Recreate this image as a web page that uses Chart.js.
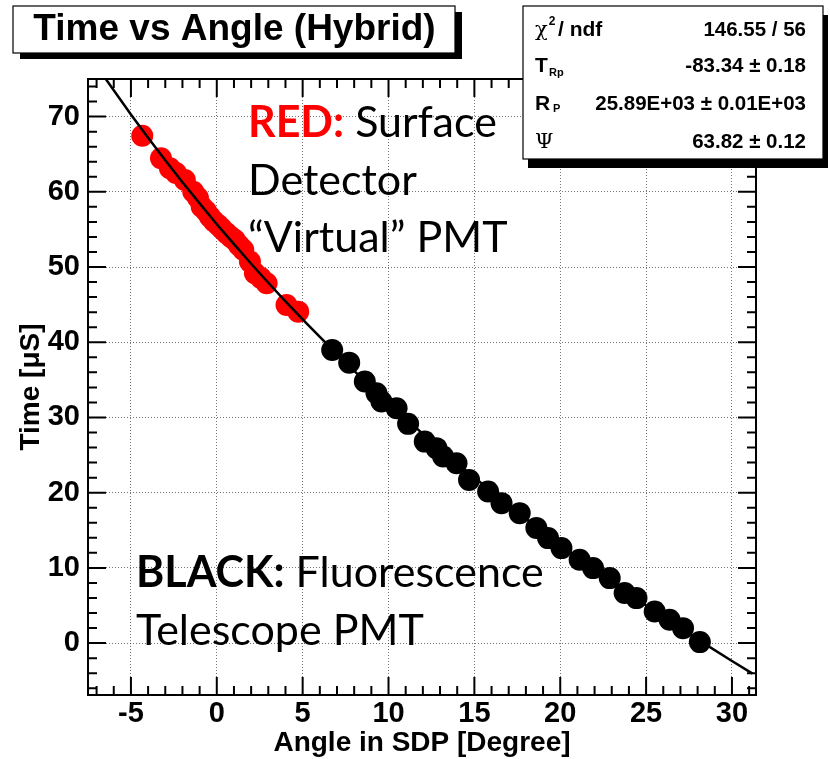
<!DOCTYPE html>
<html><head><meta charset="utf-8">
<script src="https://cdn.jsdelivr.net/npm/chart.js@4.4.1/dist/chart.umd.min.js"></script>
<style>html,body{margin:0;padding:0;background:#fff;}canvas{display:block;}</style>
</head><body>
<canvas id="c" width="830" height="759"></canvas>
<script>
// Surface detector "virtual" PMT points (red)
const redX = [-4.34,-3.25,-2.73,-2.38,-1.86,-1.37,-1.10,-0.88,-0.63,-0.40,-0.17,0.08,0.30,0.57,0.82,1.05,1.29,1.54,1.93,2.22,2.57,2.90,4.06,4.74];
const redY = [67.46,64.46,63.13,62.50,61.58,60.02,59.20,58.03,57.45,56.70,56.10,55.60,55.10,54.49,54.00,53.60,52.90,52.29,50.72,49.18,48.55,47.85,44.96,44.07];
// Fluorescence telescope PMT points (black)
const blackX = [6.72,7.71,8.62,9.30,9.59,10.47,11.14,12.11,12.79,13.18,13.96,14.69,15.80,16.58,17.64,18.61,19.29,20.07,21.13,21.91,22.88,23.75,24.44,25.50,26.37,27.15,28.13];
const blackY = [38.98,37.29,34.77,33.23,32.11,31.23,29.15,26.79,25.92,24.80,23.92,21.70,20.15,18.61,17.28,15.32,13.96,12.63,11.07,9.97,8.64,6.65,5.98,4.20,3.10,1.99,0.13];
// fitted curve
const fitX = [-6.6,-5,-4,-3,-2,-1,0,1,2,3,4,5,6,7,8,10,12,14,16,18,20,22,24,26,28,30,31.2];
const fitY = [75.43,70.28,67.18,64.20,61.27,58.46,55.69,53.04,50.43,47.91,45.44,43.05,40.70,38.43,36.20,31.90,27.81,23.89,20.15,16.54,13.09,9.76,6.56,3.48,0.50,-2.38,-4.05];
// axis ticks
const xTicks = [-5,0,5,10,15,20,25,30];
const yTicks = [0,10,20,30,40,50,60,70];
// texts
const titleText = 'Time vs Angle (Hybrid)';
const xTitle = 'Angle in SDP [Degree]';
const yTitle = 'Time [\u03BCS]';
const statValues = ['146.55 / 56', '-83.34 \u00B1 0.18', '25.89E+03 \u00B1 0.01E+03', '63.82 \u00B1 0.12'];

const pts = (xs, ys) => xs.map((v, i) => ({x: v, y: ys[i]}));
const SANS = '"Liberation Sans", Arial, Helvetica, sans-serif';
const ANN = 'Lato, "Open Sans", sans-serif';

const deco = {
  id: 'deco',
  afterDatasetsDraw(chart) {
    const {ctx, chartArea: a, scales: {x, y}} = chart;
    ctx.save();
    ctx.strokeStyle = '#000';
    ctx.lineWidth = 2;
    ctx.beginPath();
    for (let v = Math.ceil(x.min); v <= x.max; v++) {
      const px = x.getPixelForValue(v);
      const L = (v % 5 === 0) ? 18 : 9;
      ctx.moveTo(px, a.bottom); ctx.lineTo(px, a.bottom - L);
      ctx.moveTo(px, a.top); ctx.lineTo(px, a.top + L);
    }
    for (let v = Math.ceil(y.min / 2) * 2; v <= y.max; v += 2) {
      const py = y.getPixelForValue(v);
      const L = (v % 10 === 0) ? 18 : 9;
      ctx.moveTo(a.left, py); ctx.lineTo(a.left + L, py);
      ctx.moveTo(a.right, py); ctx.lineTo(a.right - L, py);
    }
    ctx.stroke();
    ctx.strokeRect(a.left, a.top, a.right - a.left, a.bottom - a.top);
    ctx.restore();
  },
  afterDraw(chart) {
    const ctx = chart.ctx;
    ctx.save();
    // title box
    ctx.fillStyle = '#000';
    ctx.fillRect(20, 12, 442, 47);
    ctx.fillStyle = '#fff';
    ctx.fillRect(13, 6, 442, 47);
    ctx.strokeStyle = '#000';
    ctx.lineWidth = 1.2;
    ctx.strokeRect(13, 6, 442, 47);
    ctx.fillStyle = '#000';
    ctx.font = 'bold 37px ' + SANS;
    ctx.textAlign = 'center';
    ctx.textBaseline = 'alphabetic';
    ctx.fillText(titleText, 234.5, 40);

    // stats box
    ctx.fillStyle = '#000';
    ctx.fillRect(528, 15, 300, 153);
    ctx.fillStyle = '#fff';
    ctx.fillRect(523, 6, 300, 153);
    ctx.lineWidth = 1.2;
    ctx.strokeRect(523, 6, 300, 153);
    ctx.fillStyle = '#000';
    const base = [36, 72, 110, 148];
    ctx.textAlign = 'right';
    ctx.font = 'bold 20.5px ' + SANS;
    statValues.forEach((t, i) => ctx.fillText(t, 806, base[i]));
    ctx.textAlign = 'left';
    // chi2 / ndf
    ctx.font = '21px "DejaVu Serif", serif';
    ctx.fillText('\u03C7', 535, base[0]);
    let w = ctx.measureText('\u03C7').width;
    ctx.font = 'bold 12px ' + SANS;
    ctx.fillText('2', 535 + w + 1, base[0] - 11);
    ctx.font = 'bold 21px ' + SANS;
    ctx.fillText('/ ndf', 558, base[0]);
    // T_Rp
    ctx.fillText('T', 535, base[1]);
    ctx.font = 'bold 11px ' + SANS;
    ctx.fillText('Rp', 549, base[1] + 4);
    // R_P
    ctx.font = 'bold 21px ' + SANS;
    ctx.fillText('R', 535, base[2]);
    ctx.font = 'bold 11px ' + SANS;
    ctx.fillText('P', 553, base[2] + 2);
    // Psi
    ctx.font = '21px "DejaVu Serif", serif';
    ctx.fillText('\u03A8', 535, base[3]);

    // annotations
    ctx.font = 'bold 43px ' + ANN;
    ctx.fillStyle = '#ff0000';
    ctx.fillText('RED:', 248, 137);
    w = ctx.measureText('RED:').width;
    ctx.font = '43px ' + ANN;
    ctx.fillStyle = '#000';
    ctx.fillText(' Surface', 248 + w, 137);
    ctx.fillText('Detector', 248, 195);
    ctx.fillText('\u201CVirtual\u201D PMT', 248, 252);
    ctx.font = 'bold 43px ' + ANN;
    ctx.fillText('BLACK:', 136, 587);
    w = ctx.measureText('BLACK:').width;
    ctx.font = '43px ' + ANN;
    ctx.fillText(' Fluorescence', 136 + w, 587);
    ctx.fillText('Telescope PMT', 136, 645);
    ctx.restore();
  }
};

const gridCommon = {color: 'rgba(0,0,0,0.55)', lineWidth: 1, drawTicks: false};

new Chart(document.getElementById('c'), {
  type: 'scatter',
  data: {
    datasets: [
      {label: 'fit', data: pts(fitX, fitY), showLine: true, borderColor: '#000', borderWidth: 2.5, pointRadius: 0, fill: false, order: 0},
      {label: 'FD', data: pts(blackX, blackY), backgroundColor: '#000', borderWidth: 0, pointRadius: 11, order: 1},
      {label: 'SD', data: pts(redX, redY), backgroundColor: '#ff0000', borderWidth: 0, pointRadius: 11, order: 2}
    ]
  },
  options: {
    responsive: false,
    animation: false,
    layout: {padding: {left: 0, top: 79, right: 74, bottom: 0}},
    plugins: {legend: {display: false}, tooltip: {enabled: false}},
    scales: {
      x: {
        type: 'linear', min: -7.5, max: 31.4,
        afterBuildTicks: s => { s.ticks = xTicks.map(v => ({value: v})); },
        afterFit: s => { s.height = 64; },
        grid: gridCommon,
        border: {display: false, dash: [1, 2]},
        ticks: {padding: 2, color: '#000', font: {family: SANS, weight: 'bold', size: 29}, maxRotation: 0},
        title: {display: true, text: xTitle, color: '#000', font: {family: SANS, weight: 'bold', size: 28, lineHeight: 1.1}, padding: {top: 0, bottom: 0}}
      },
      y: {
        type: 'linear', min: -6.9, max: 75,
        afterBuildTicks: s => { s.ticks = yTicks.map(v => ({value: v})); },
        afterFit: s => { s.width = 88; },
        grid: gridCommon,
        border: {display: false, dash: [1, 2]},
        ticks: {padding: 8, color: '#000', font: {family: SANS, weight: 'bold', size: 29}},
        title: {display: true, text: yTitle, color: '#000', font: {family: SANS, weight: 'bold', size: 28, lineHeight: 1.2}, padding: {top: 14, bottom: 0}}
      }
    }
  },
  plugins: [deco]
});
</script>
</body></html>
